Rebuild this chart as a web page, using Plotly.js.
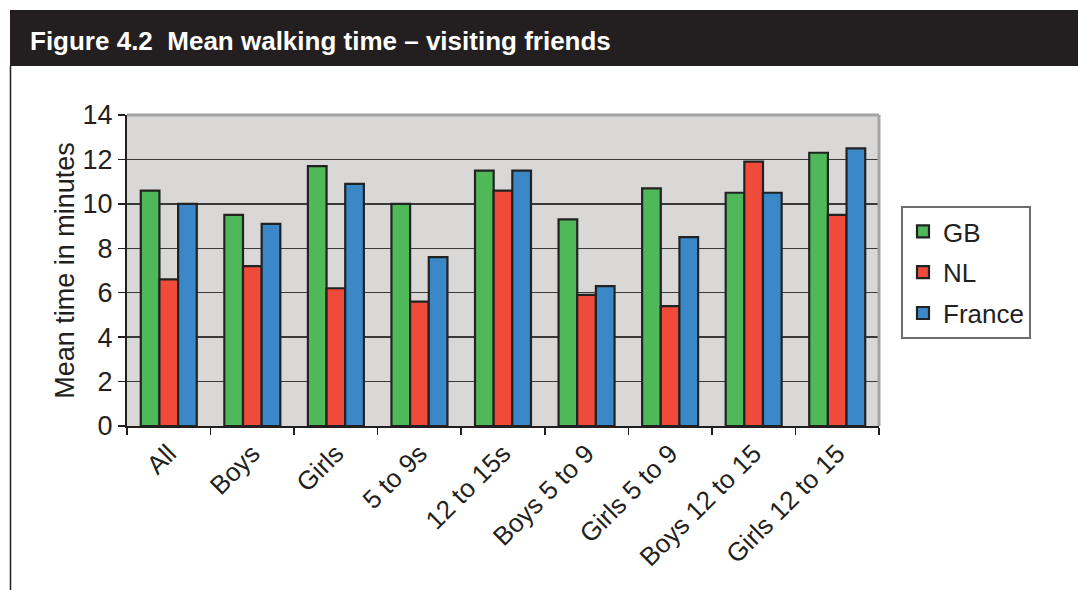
<!DOCTYPE html>
<html>
<head>
<meta charset="utf-8">
<script src="https://cdn.plot.ly/plotly-3.0.1.min.js"></script>
<style>
html,body{margin:0;padding:0;background:#fff;}
#chart{width:1078px;height:590px;}
</style>
</head>
<body>
<div id="chart"></div>
<script>
const categories = ["All", "Boys", "Girls", "5 to 9s", "12 to 15s", "Boys 5 to 9", "Girls 5 to 9", "Boys 12 to 15", "Girls 12 to 15"];
const gbValues = [10.6, 9.5, 11.7, 10.0, 11.5, 9.3, 10.7, 10.5, 12.3];
const nlValues = [6.6, 7.2, 6.2, 5.6, 10.6, 5.9, 5.4, 11.9, 9.5];
const franceValues = [10.0, 9.1, 10.9, 7.6, 11.5, 6.3, 8.5, 10.5, 12.5];
const seriesNames = ["GB", "NL", "France"];
const yTicks = [0, 2, 4, 6, 8, 10, 12, 14];

const colors = ["#4fb858", "#ef4a3a", "#3a88c8"];
const allValues = [gbValues, nlValues, franceValues];

const traces = allValues.map((vals, i) => ({
  type: "bar",
  name: seriesNames[i],
  x: categories,
  y: vals,
  legendgroup: "g" + i,
  marker: {color: colors[i], line: {color: "#222", width: 2.2}},
  hoverinfo: "x+y+name"
}));

// pixel helpers for decorations
const L = 127, R = 879, T = 115, B = 426;
const px = p => (p - L) / (R - L);
const py = p => (B - p) / (B - T);

const layout = {
  width: 1078,
  height: 590,
  margin: {l: L, r: 1078 - R, t: T, b: 590 - B},
  paper_bgcolor: "#ffffff",
  plot_bgcolor: "#d9d8d6",
  font: {family: "Liberation Sans, Arial, sans-serif", color: "#231f20"},
  barmode: "group",
  bargap: 0.33,
  bargroupgap: 0,
  title: {
    text: "<b>Figure 4.2  Mean walking time – visiting friends</b>",
    font: {family: "Liberation Sans, Arial, sans-serif", size: 26, color: "#ffffff"},
    xref: "container", yref: "container",
    x: 30 / 1078, xanchor: "left",
    y: 1 - 41 / 590, yanchor: "middle"
  },
  xaxis: {
    type: "category",
    tickangle: -45,
    tickfont: {size: 26, color: "#231f20"},
    ticks: "outside",
    tickson: "boundaries",
    ticklen: 7,
    tickwidth: 1.5,
    tickcolor: "#231f20",
    showline: true,
    linecolor: "#231f20",
    linewidth: 2,
    showgrid: false,
    fixedrange: true
  },
  yaxis: {
    range: [0, 14],
    tickvals: yTicks,
    ticktext: yTicks.map(String),
    tickfont: {size: 27, color: "#231f20"},
    ticks: "outside",
    ticklen: 7,
    tickwidth: 1.5,
    tickcolor: "#231f20",
    showline: true,
    linecolor: "#231f20",
    linewidth: 2,
    showgrid: true,
    gridcolor: "#3a3a3a",
    gridwidth: 1.5,
    zeroline: false,
    title: {text: "Mean time in minutes", font: {size: 27, color: "#231f20"}, standoff: 0},
    fixedrange: true
  },
  legend: {
    x: px(901), xanchor: "left",
    y: py(206), yanchor: "top",
    bordercolor: "#6d6d6d",
    borderwidth: 2,
    bgcolor: "#ffffff",
    font: {size: 26, color: "#231f20"},
    traceorder: "grouped",
    tracegroupgap: 4,
    itemwidth: 30
  },
  shapes: [
    {type: "rect", xref: "paper", yref: "paper", x0: px(10), x1: px(1078), y0: py(66), y1: py(10),
     fillcolor: "#231f20", line: {width: 0}, layer: "below"},
    {type: "line", xref: "paper", yref: "paper", x0: px(10.5), x1: px(10.5), y0: py(66), y1: py(590),
     line: {color: "#231f20", width: 1.5}},
    {type: "line", xref: "paper", yref: "paper", x0: 0, x1: 1, y0: 1, y1: 1,
     line: {color: "#a3a3a3", width: 3}, layer: "above"},
    {type: "line", xref: "paper", yref: "paper", x0: 1, x1: 1, y0: 0, y1: 1,
     line: {color: "#a3a3a3", width: 3}, layer: "above"}
  ],
  showlegend: true
};

Plotly.newPlot("chart", traces, layout, {displayModeBar: false, staticPlot: true});
</script>
</body>
</html>
